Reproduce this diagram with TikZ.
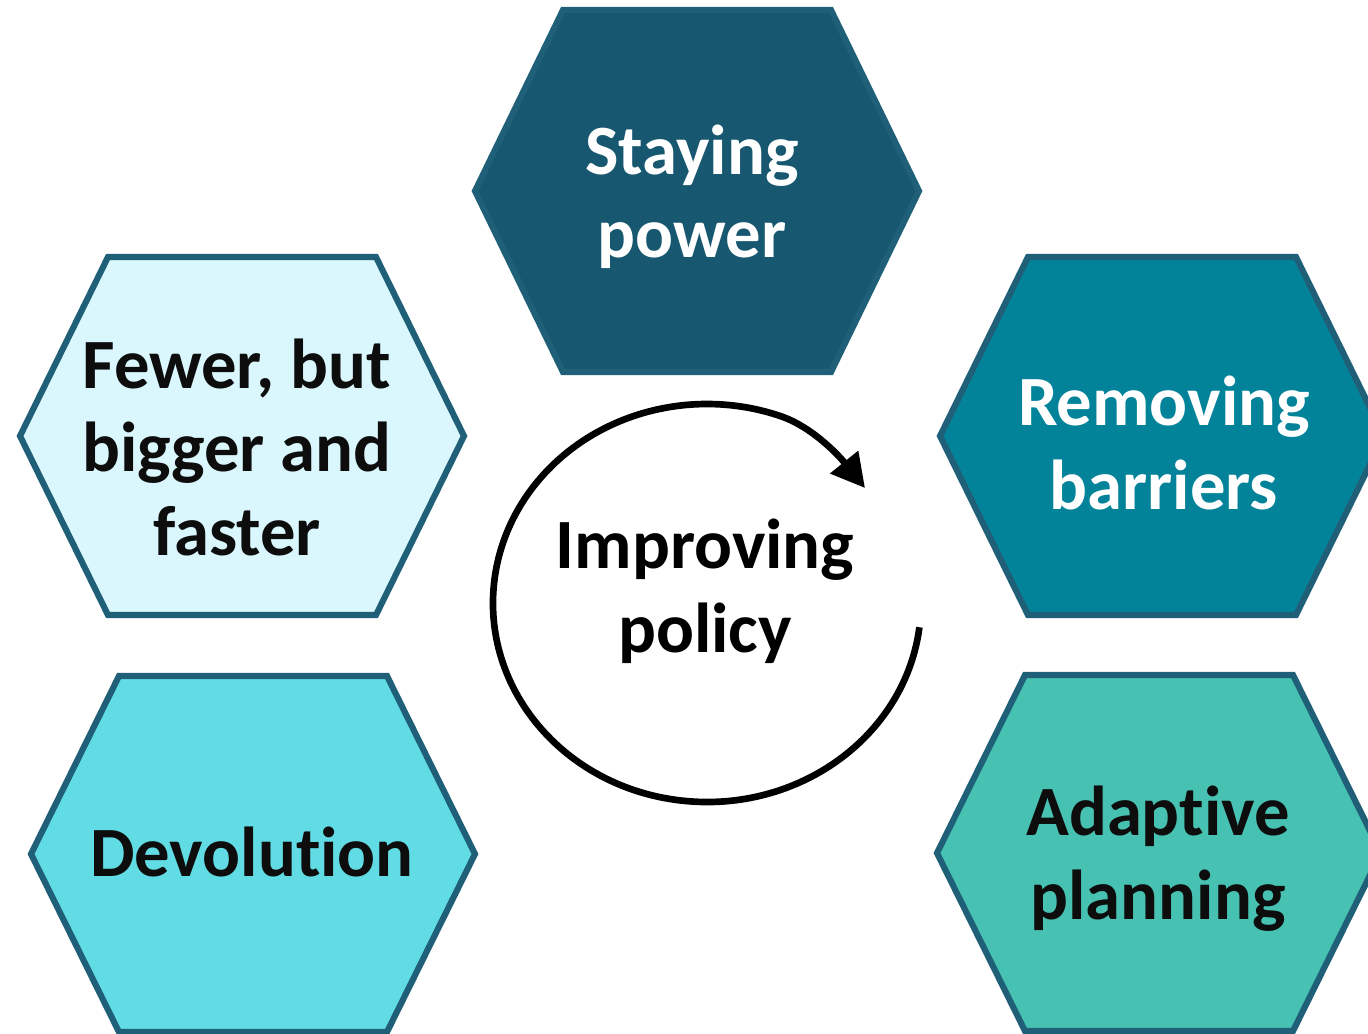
\documentclass[tikz,border=0pt]{standalone}
\usepackage{fontspec}
\setmainfont{Carlito}[Ligatures=NoCommon]
\usetikzlibrary{arrows.meta}
\definecolor{hexborder}{RGB}{31,96,120}
\definecolor{fillA}{RGB}{23,87,112}
\definecolor{fillB}{RGB}{217,247,252}
\definecolor{fillC}{RGB}{2,131,154}
\definecolor{fillD}{RGB}{98,220,228}
\definecolor{fillE}{RGB}{71,194,178}
\definecolor{darktext}{RGB}{13,13,13}
\newcommand\hexat[4]{\path[hexline,fill=#4] (#1-222,#2) -- (#1-134,#2-#3) -- (#1+134,#2-#3) -- (#1+222,#2) -- (#1+134,#2+#3) -- (#1-134,#2+#3) -- cycle;}
\begin{document}
\begin{tikzpicture}[x=0.75pt,y=-0.75pt,
  hexline/.style={draw=hexborder,line width=4.6pt,line join=miter},
  lbl/.style={font=\bfseries\fontsize{53}{62.5}\selectfont, align=center, anchor=base, inner sep=0pt},
  cyclearrow/.style={draw=black,line width=5pt,-{Triangle[length=25pt,width=26pt]}}]
\useasboundingbox (0,0) rectangle (1368,1034);
\clip (0,0) rectangle (1368,1034);
\hexat{697}{191}{181}{fillA}
\hexat{242}{436}{179}{fillB}
\hexat{1162}{436}{179}{fillC}
\hexat{253}{854}{178}{fillD}
\hexat{1159}{853}{178}{fillE}
\node[lbl,text=white] (staying) at (692,258) {Staying\\power};
\node[lbl,text=darktext] (fewer) at (237,555) {Fewer, but\\bigger and\\faster};
\node[lbl,text=white] (removing) at (1164,509) {Removing\\barriers};
\node[lbl,text=darktext] (devolution) at (252,876) {Devolution};
\node[lbl,text=darktext] (adaptive) at (1158,919) {Adaptive\\planning};
\node[lbl,text=black] (improving) at (705,652) {Improving\\policy};
\coordinate (cc) at (707,603);
\coordinate (tip) at (865,488);
\draw[cyclearrow] (cc) ++(7:214 and 199) arc[start angle=7, end angle=290, x radius=214, y radius=199]
  .. controls (813,427) and (840,457) .. (tip);
\end{tikzpicture}
\end{document}
